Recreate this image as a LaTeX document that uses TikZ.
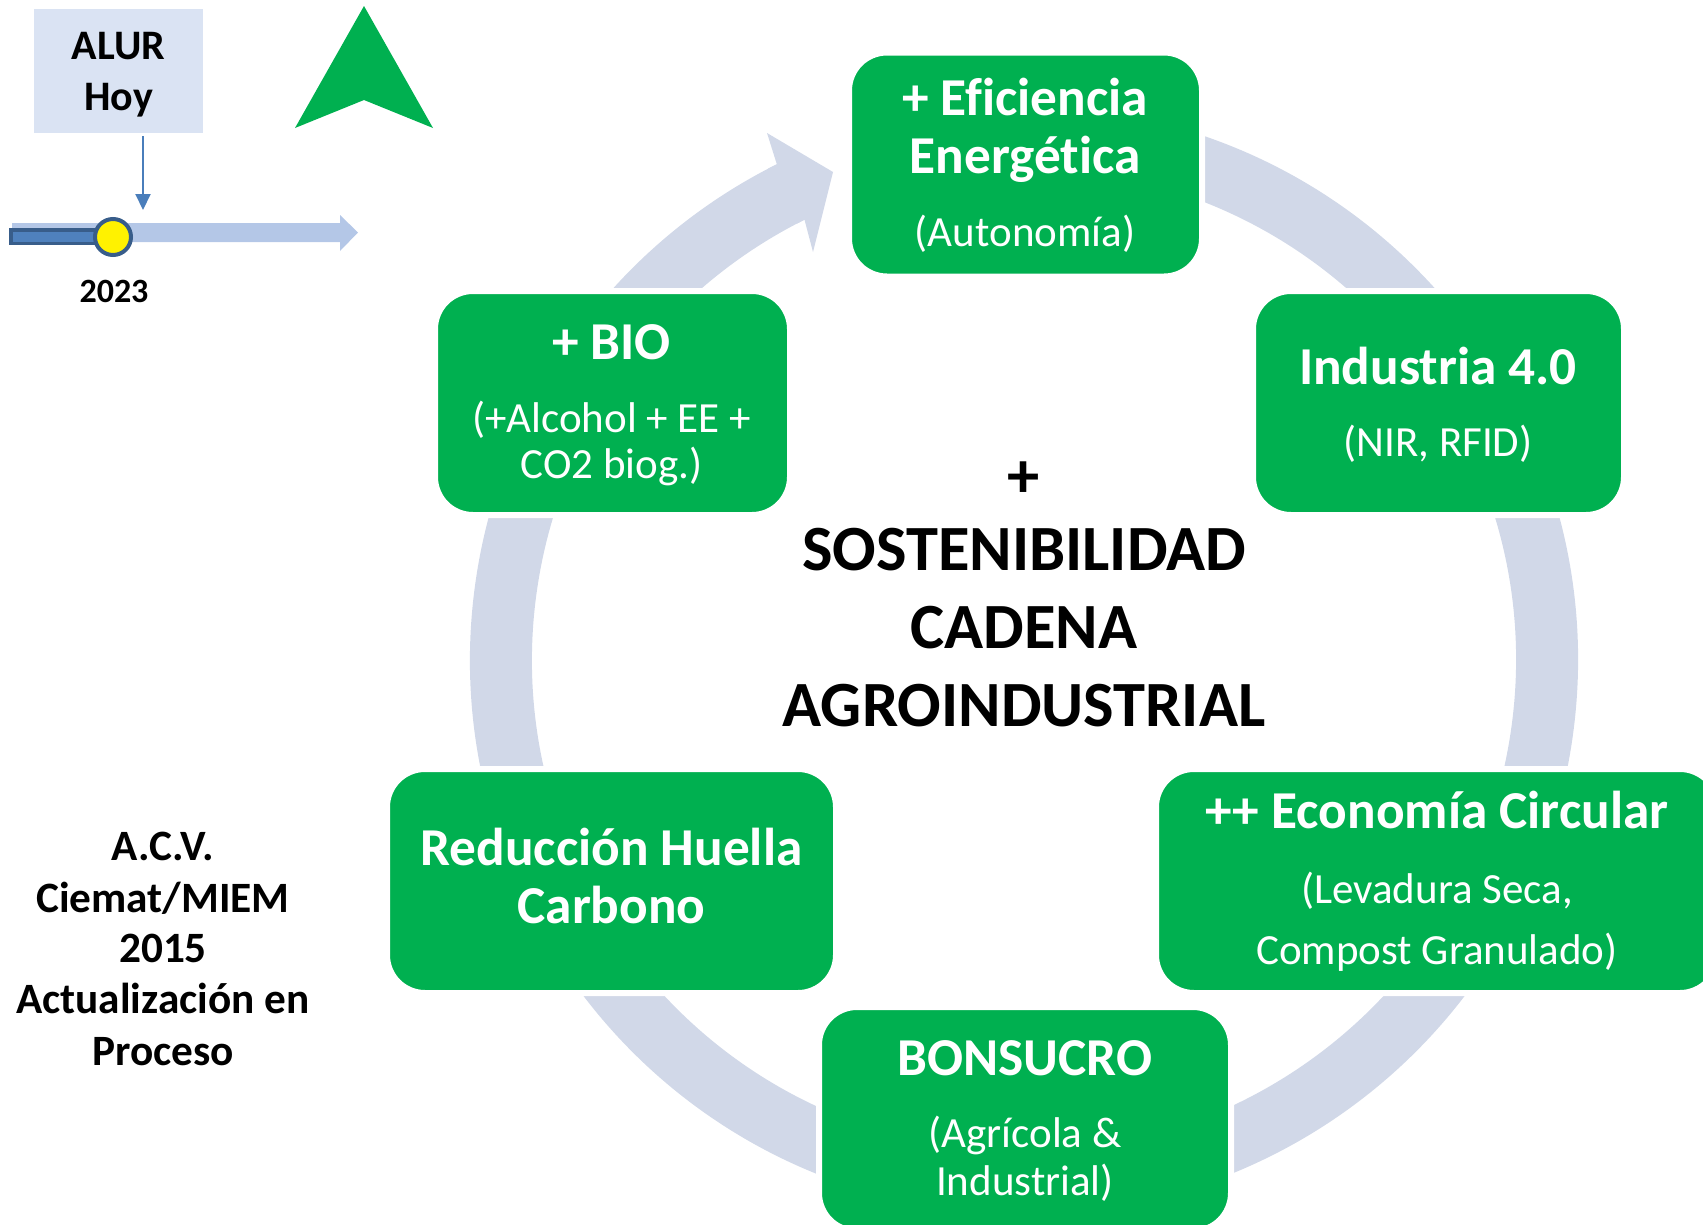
\documentclass[tikz,border=0pt]{standalone}
\usepackage{fontspec}
\setmainfont{Carlito}[Ligatures=NoCommon]
\usetikzlibrary{arrows.meta,calc}
\definecolor{boxgreen}{HTML}{00B050}
\definecolor{ringblue}{HTML}{D1D8E8}
\definecolor{alurfill}{HTML}{DAE3F3}
\definecolor{tlight}{HTML}{B4C7E7}
\definecolor{tdark}{HTML}{4F81BD}
\definecolor{tborder}{HTML}{385D8A}
\definecolor{arrowblue}{HTML}{4A7EBB}
\newcommand{\fsz}[1]{\fontsize{#1}{#1}\selectfont}
\begin{document}
\begin{tikzpicture}[x=1pt,y=-1pt,
  gbox/.style={draw=white, line width=6pt, fill=boxgreen, rounded corners=38pt, inner sep=0pt, minimum height=224pt},
  ttl/.style={anchor=base, text=white, inner sep=0pt, font=\fsz{53.3}\bfseries},
  sub/.style={anchor=base, text=white, inner sep=0pt, font=\fsz{43}},
  ctr/.style={anchor=base, text=black, inner sep=0pt, font=\fsz{64.5}\bfseries},
  lft/.style={anchor=base, text=black, inner sep=0pt, font=\fsz{43.3}\bfseries},
  alurtxt/.style={anchor=base, text=black, inner sep=0pt, font=\fsz{42}\bfseries},
]
\useasboundingbox (0,0) rectangle (1703,1224);
\clip (0,0) rectangle (1703,1224);

% ---- circular arrow ring ----
\coordinate (rc) at (1024,660);
\draw[ringblue, line width=62pt] ($(rc)+(-80:523)$) arc[start angle=-80, end angle=243.5, radius=523];
\fill[ringblue] ($(rc)+(242.5:554)$) -- ($(rc)+(243.5:554)$) -- (767,133) -- (833,172) -- (813,252)
   -- ($(rc)+(243.5:492)$) -- ($(rc)+(242.5:492)$) -- cycle;

% ---- timeline ----
\fill[tlight] (12,223) -- (340,223) -- (340,215) -- (358,232.5) -- (340,251) -- (340,242) -- (12,242) -- cycle;
\draw[tborder, fill=tdark, line width=3.5pt] (10.75,230) rectangle (105,243.3);
\node[circle, draw=tborder, fill=yellow, line width=4pt, minimum size=36pt, inner sep=0pt] (now) at (113,237) {};
\node[anchor=base, inner sep=0pt, font=\fsz{34}\bfseries] (yr) at (114,302) {2023};

% ---- ALUR Hoy ----
\node[fill=alurfill, minimum width=169pt, minimum height=124pt, inner sep=0pt] (alur) at (118.5,71) {};
\node[alurtxt] (alur1) at (118.5,59.3) {ALUR};
\node[alurtxt] (alur2) at (118.5,110) {Hoy};
\coordinate (hoytip) at (143,210);
\draw[arrowblue, line width=2pt, -{Triangle[width=15pt,length=16pt]}] ([xshift=24.5pt,yshift=-3pt]alur.south) -- (hoytip);

% ---- green navigation arrow ----
\fill[boxgreen] (364,6) -- (433,128) -- (364,100) -- (295,128) -- cycle;

% ---- boxes ----
\node[gbox, minimum width=353pt] (efi) at (1025.5,164.5) {};
\node[gbox, minimum width=371pt] (ind) at (1438.5,403) {};
\node[gbox, minimum width=562pt] (eco) at (1437,881) {};
\node[gbox, minimum width=412pt] (bon) at (1025,1119) {};
\node[gbox, minimum width=449pt] (red) at (611.5,881) {};
\node[gbox, minimum width=355pt] (bio) at (612.5,403) {};

% ---- box texts ----
\node[ttl] (efi1) at (1025,115) {+ Eficiencia};
\node[ttl] (efi2) at (1025,173) {Energética};
\node[sub] (efi3) at (1025,246) {(Autonomía)};

\node[ttl] (ind1) at (1438,384) {Industria 4.0};
\node[sub] (ind2) at (1438,456) {(NIR, RFID)};

\node[ttl] (eco1) at (1437,828) {++ Economía Circular};
\node[sub] (eco2) at (1437,903) {(Levadura Seca,};
\node[sub] (eco3) at (1437,964) {Compost Granulado)};

\node[ttl] (bon1) at (1025,1075) {BONSUCRO};
\node[sub] (bon2) at (1025,1147) {(Agrícola \&};
\node[sub] (bon3) at (1025,1195) {Industrial)};

\node[ttl] (red1) at (611.5,865) {Reducción Huella};
\node[ttl] (red2) at (611.5,923) {Carbono};

\node[ttl] (bio1) at (611.5,359) {+ BIO};
\node[sub] (bio2) at (611.5,432) {(+Alcohol + EE +};
\node[sub] (bio3) at (611.5,478) {CO2 biog.)};

% ---- centre text ----
\node[ctr] (c0) at (1024,497) {+};
\node[ctr] (c1) at (1024,570) {SOSTENIBILIDAD};
\node[ctr] (c2) at (1024,648) {CADENA};
\node[ctr] (c3) at (1024,726) {AGROINDUSTRIAL};

% ---- left text ----
\node[lft] (l1) at (163,860) {A.C.V.};
\node[lft] (l2) at (163,912) {Ciemat/MIEM};
\node[lft] (l3) at (163,962) {2015};
\node[lft] (l4) at (163,1013) {Actualización en};
\node[lft] (l5) at (163,1065) {Proceso};
\end{tikzpicture}
\end{document}
